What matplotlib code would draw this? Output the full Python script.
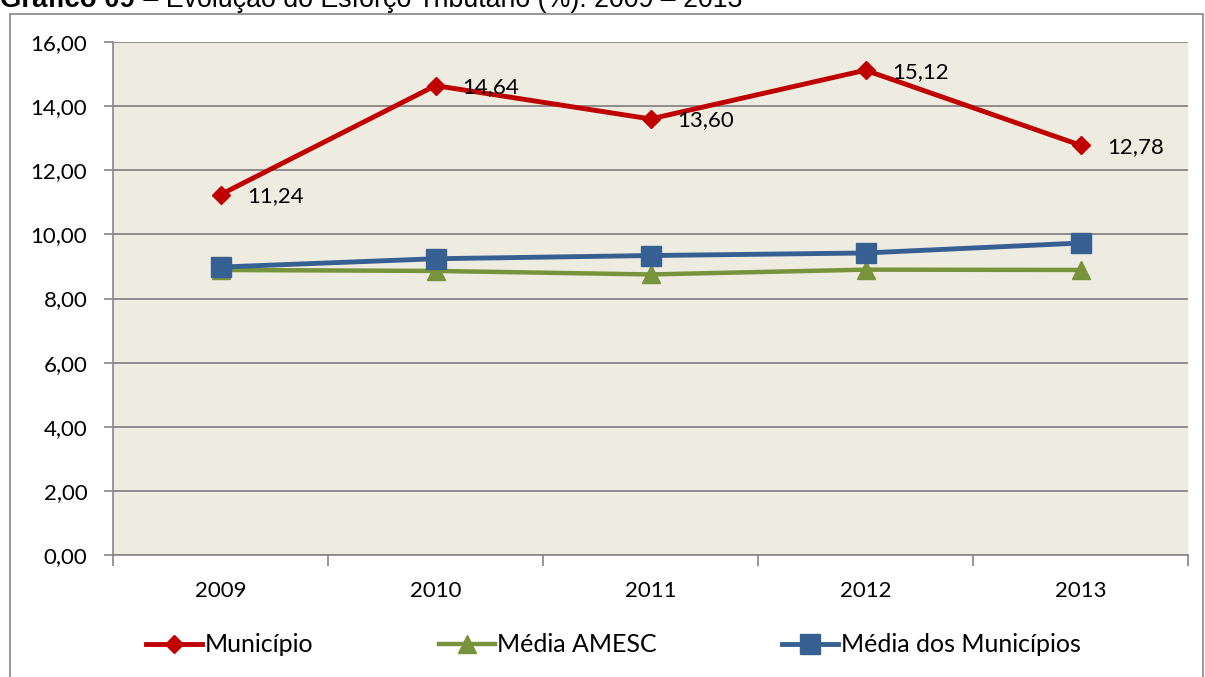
import matplotlib.pyplot as plt
from matplotlib.patches import Rectangle

# data
anos = ['2009', '2010', '2011', '2012', '2013']
municipio = [11.24, 14.64, 13.60, 15.12, 12.78]
media_amesc = [8.89, 8.86, 8.75, 8.90, 8.89]
media_municipios = [8.98, 9.24, 9.34, 9.42, 9.73]
y_ticks = [0, 2, 4, 6, 8, 10, 12, 14, 16]

plt.rcParams['font.family'] = ['Lato', 'DejaVu Sans']

fig = plt.figure(figsize=(12.05, 6.77), dpi=100)
W, H = 1205, 677

# outer chart border
fig.patches.append(Rectangle((9.5 / W, -0.05), 1193 / W, 1.05 - 13.5 / H,
                             transform=fig.transFigure, fill=False,
                             edgecolor='#868686', linewidth=1.2))

# title, cut at the top like the reference
renderer = fig.canvas.get_renderer()
t1 = fig.text(0, 1 - 7 / H, 'Gráfico 09', fontsize=20, fontweight='bold',
              family='Liberation Sans', va='baseline', ha='left')
w1 = t1.get_window_extent(renderer).width
t1.set_fontsize(20 * 135 / w1)
t2 = fig.text(742 / W, 1 - 7 / H, ' – Evolução do Esforço Tributário (%): 2009 – 2013',
              fontsize=20, family='Liberation Sans', va='baseline', ha='right')
w2 = t2.get_window_extent(renderer).width
t2.set_fontsize(20 * 607 / w2)

ax = fig.add_axes([113 / W, 1 - 555 / H, 1075 / W, 513 / H])
ax.set_facecolor('#EEEBE0')
x = list(range(len(anos)))

ax.plot(x, municipio, color='#C00000', linewidth=3.5, marker='D', markersize=9.5,
        label='Município', zorder=5)
ax.plot(x, media_amesc, color='#77933C', linewidth=3.2, marker='^', markersize=13.5,
        label='Média AMESC', zorder=3)
ax.plot(x, media_municipios, color='#376092', linewidth=3.5, marker='s', markersize=14,
        label='Média dos Municípios', zorder=4)

for xi, v in zip(x, municipio):
    ax.annotate(f'{v:.2f}'.replace('.', ','), (xi, v), xytext=(19, -1),
                textcoords='offset points', va='center', ha='left', fontsize=16, zorder=6)

ax.set_xlim(-0.5, 4.5)
ax.set_ylim(0, 16)
ax.set_yticks(y_ticks)
ax.set_yticklabels([f'{t:.2f}'.replace('.', ',') for t in y_ticks], fontsize=16)
ax.yaxis.grid(True, color='#868686', linewidth=1.3)
ax.set_axisbelow(True)

ax.set_xticks([i - 0.5 for i in range(len(anos) + 1)])
ax.set_xticklabels([])
ax.set_xticks(x, minor=True)
ax.set_xticklabels(anos, minor=True, fontsize=16)
ax.tick_params(axis='x', which='major', length=8, width=1.2, color='#868686', direction='out')
ax.tick_params(axis='x', which='minor', length=0, pad=19)
ax.tick_params(axis='y', length=6.5, width=1.2, color='#868686', pad=12)

for side in ['top', 'right']:
    ax.spines[side].set_visible(False)
for side in ['left', 'bottom']:
    ax.spines[side].set_color('#868686')
    ax.spines[side].set_linewidth(1.2)

leg = fig.legend(loc='center', bbox_to_anchor=(0.509, 1 - 645 / H), ncol=3, frameon=False,
                 fontsize=18, handlelength=2.25, handletextpad=0.1, columnspacing=5.0)

fig.savefig('out.png', dpi=100)
